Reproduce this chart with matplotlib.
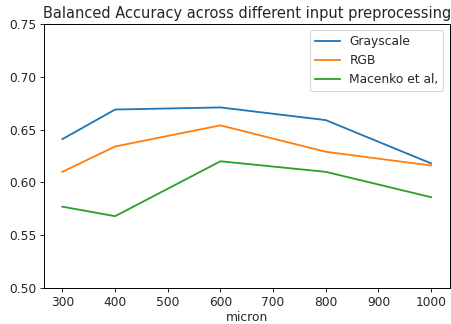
import matplotlib
matplotlib.use("Agg")
import matplotlib.pyplot as plt

micron = [300, 400, 600, 800, 1000]
grayscale = [0.641, 0.669, 0.671, 0.659, 0.618]
rgb = [0.610, 0.634, 0.654, 0.629, 0.616]
macenko = [0.577, 0.568, 0.620, 0.610, 0.586]

s = 1.22
plt.rcParams.update({
    "font.size": 10 * s,
    "axes.titlesize": 12 * s,
    "lines.linewidth": 1.5 * s,
    "axes.linewidth": 0.8 * s,
    "xtick.major.width": 0.8 * s,
    "ytick.major.width": 0.8 * s,
    "xtick.major.size": 3.5 * s,
    "ytick.major.size": 3.5 * s,
    "text.color": "#262626",
    "xtick.color": "#262626",
    "ytick.color": "#262626",
    "axes.labelcolor": "#262626",
})

fig = plt.figure(figsize=(451/72, 324/72), dpi=72)
ax = fig.add_axes([44/451, 1-288/324, 405.5/451, 264/324])
ax.plot(micron, grayscale, color="#1f77b4", label="Grayscale")
ax.plot(micron, rgb, color="#ff7f0e", label="RGB")
ax.plot(micron, macenko, color="#2ca02c", label="Macenko et al,")
ax.set_ylim(0.5, 0.75)
ax.set_xlim(265, 1035)
ax.set_xticks([300, 400, 500, 600, 700, 800, 900, 1000])
ax.set_yticks([0.5, 0.55, 0.6, 0.65, 0.7, 0.75])
ax.set_xlabel("micron", labelpad=2)
ax.set_title("Balanced Accuracy across different input preprocessing")
ax.legend(loc="upper right")
fig.savefig("out.png", dpi=72)
